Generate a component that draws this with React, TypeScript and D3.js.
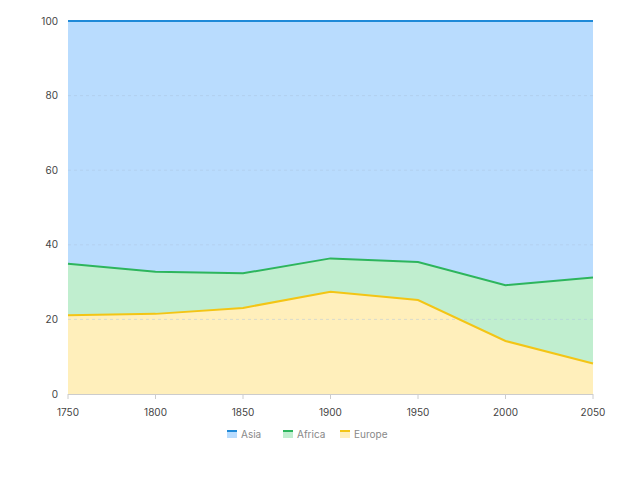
import React from "react";
import * as d3 from "d3";

const years = [1750, 1800, 1850, 1900, 1950, 2000, 2050];
const asia = [502, 635, 809, 947, 1402, 3634, 5268];
const africa = [106, 107, 111, 133, 221, 767, 1766];
const europe = [163, 203, 276, 408, 547, 729, 628];
const yTicks = [0, 20, 40, 60, 80, 100];

const seriesNames = ["Europe", "Africa", "Asia"];
const lineColors: Record<string, string> = { Asia: "#1f8ad8", Africa: "#2db55d", Europe: "#f3c515" };
const fillColors: Record<string, string> = { Asia: "#b9dcfe", Africa: "#c0eecf", Europe: "#ffefbb" };
const legendOrder = ["Asia", "Africa", "Europe"];

export default function App() {
  const W = 618, H = 480;
  const left = 68, right = 593, top = 21, bottom = 394;
  const rows = years.map((y, i) => ({ year: y, Asia: asia[i], Africa: africa[i], Europe: europe[i] }));
  const stack = d3.stack<any>().keys(seriesNames).offset(d3.stackOffsetExpand);
  const layers = stack(rows);
  const x = d3.scaleLinear().domain([1750, 2050]).range([left, right]);
  const y = d3.scaleLinear().domain([0, 100]).range([bottom, top]);
  const area = d3.area<any>().x((d) => x(d.data.year)).y0((d) => y(d[0] * 100)).y1((d) => y(d[1] * 100));
  const line = d3.line<any>().x((d) => x(d.data.year)).y((d) => y(d[1] * 100));
  const font = "Inter, 'Liberation Sans', sans-serif";
  const legendX = [227, 283, 340];
  return (
    <svg width={W} height={H} style={{ position: "absolute", left: 0, top: 0, fontFamily: font }}>
      {layers.map((l) => (
        <path key={l.key} d={area(l) || ""} fill={fillColors[l.key]} />
      ))}
      {yTicks.filter((t) => t > 0 && t < 100).map((t) => (
        <line key={t} x1={left} x2={right} y1={y(t)} y2={y(t)} stroke="#aac4dd" strokeOpacity={0.45} strokeDasharray="3,3" />
      ))}
      {layers.map((l) => (
        <path key={l.key + "l"} d={line(l) || ""} fill="none" stroke={lineColors[l.key]} strokeWidth={2} />
      ))}
      <line x1={left} x2={right} y1={bottom + 0.5} y2={bottom + 0.5} stroke="#cccccc" />
      {years.map((yr) => (
        <g key={yr}>
          <line x1={x(yr)} x2={x(yr)} y1={bottom} y2={bottom + 5} stroke="#cccccc" />
          <text x={x(yr)} y={bottom + 22} textAnchor="middle" fontSize={10} fill="#444">{yr}</text>
        </g>
      ))}
      {yTicks.map((t) => (
        <text key={t} x={left - 10} y={y(t) + 3.5} textAnchor="end" fontSize={10} fill="#444">{t}</text>
      ))}
      {legendOrder.map((k, i) => (
        <g key={k} transform={`translate(${legendX[i]},430)`}>
          <rect x={0} y={0} width={10} height={8} fill={fillColors[k]} />
          <rect x={0} y={0} width={10} height={2} fill={lineColors[k]} />
          <text x={14} y={8} fontSize={10} fill="#888">{k}</text>
        </g>
      ))}
    </svg>
  );
}
